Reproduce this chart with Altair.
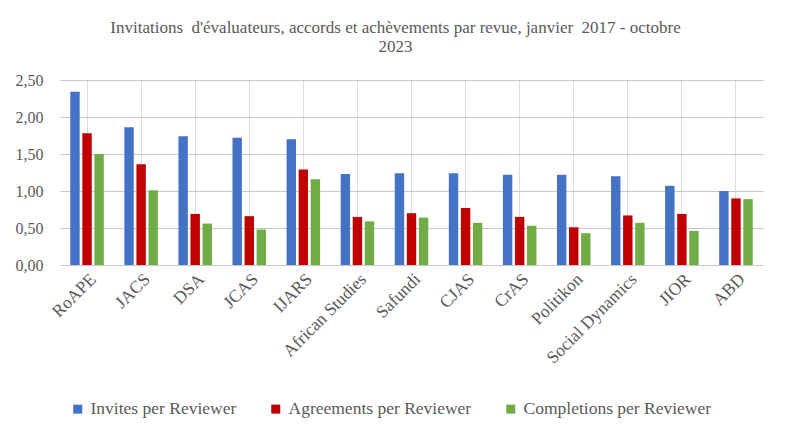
import altair as alt
import pandas as pd

journals = ["RoAPE", "JACS", "DSA", "JCAS", "IJARS", "African Studies", "Safundi",
            "CJAS", "CrAS", "Politikon", "Social Dynamics", "JIOR", "ABD"]
measures = ["Invites per Reviewer", "Agreements per Reviewer", "Completions per Reviewer"]
invites = [2.34, 1.86, 1.74, 1.72, 1.70, 1.23, 1.24, 1.24, 1.22, 1.22, 1.20, 1.07, 1.00]
agreements = [1.78, 1.36, 0.69, 0.66, 1.29, 0.65, 0.70, 0.77, 0.65, 0.51, 0.67, 0.69, 0.90]
completions = [1.50, 1.01, 0.56, 0.48, 1.16, 0.59, 0.64, 0.57, 0.53, 0.43, 0.57, 0.46, 0.89]
colors = ["#4472C4", "#C00000", "#70AD47"]
title_lines = ["Invitations\u00a0 d'évaluateurs, accords et achèvements par revue, janvier\u00a0 2017 - octobre", "2023"]

rows = []
for i, j in enumerate(journals):
    for m, vals in zip(measures, [invites, agreements, completions]):
        rows.append({"journal": j, "measure": m, "value": vals[i]})
df = pd.DataFrame(rows)

FONT = "Liberation Serif"
GREY = "#595959"

chart = alt.Chart(df).mark_bar().encode(
    x=alt.X("journal:N", sort=journals, title=None,
            scale=alt.Scale(paddingInner=0.38, paddingOuter=0.19),
            axis=alt.Axis(labelAngle=-45, labelFontSize=17.5, labelFont=FONT, labelColor=GREY,
                          ticks=False, domainColor="#c8c8c8", labelPadding=5, labelOverlap=False,
                          labelLimit=0)),
    xOffset=alt.XOffset("measure:N", sort=measures, scale=alt.Scale(paddingInner=0.22)),
    y=alt.Y("value:Q", title=None,
            scale=alt.Scale(domain=[0, 2.5], nice=False),
            axis=alt.Axis(values=[0, 0.5, 1, 1.5, 2, 2.5], labelExpr="replace(format(datum.value, '.2f'), '.', ',')",
                          labelFontSize=16, labelFont=FONT, labelColor=GREY, ticks=False, domain=False,
                          gridColor="#c8c8c8", labelPadding=17)),
    color=alt.Color("measure:N", sort=measures,
                    scale=alt.Scale(domain=measures, range=colors),
                    legend=alt.Legend(title=None, orient="none", direction="horizontal",
                                      legendX=9, legendY=320, symbolType="square", symbolSize=81,
                                      symbolStrokeWidth=0, labelFont=FONT, labelFontSize=17.5,
                                      labelColor=GREY, columnPadding=30, labelOffset=4, labelLimit=0)),
).properties(
    width=703, height=185,
    title=alt.TitleParams(title_lines, font=FONT, fontSize=17, fontWeight="normal", color=GREY,
                          anchor="middle", offset=16, lineHeight=19, dx=-16),
    padding={"left": 7, "top": 11, "right": 15, "bottom": 5},
).configure_view(stroke=None).configure_axis(grid=True)

chart.save("out.html", embed_options={"renderer": "svg", "actions": False})
